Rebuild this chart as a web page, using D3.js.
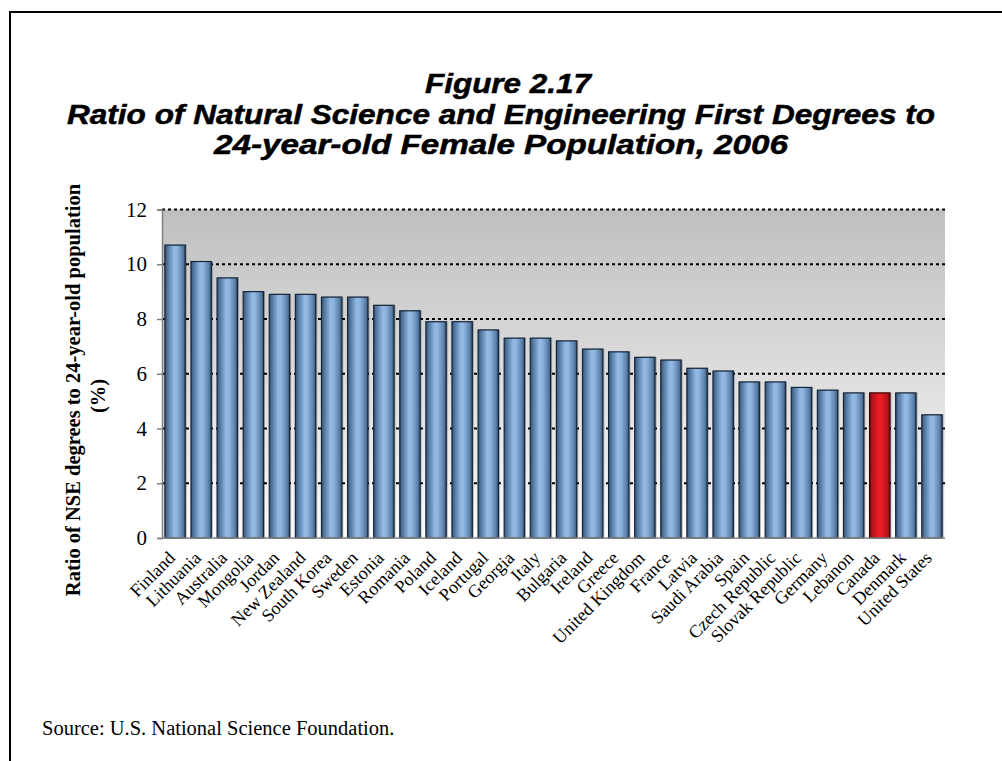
<!DOCTYPE html>
<html>
<head>
<meta charset="utf-8">
<script src="https://cdn.jsdelivr.net/npm/d3@7/dist/d3.min.js"></script>
<style>
  html, body { margin: 0; padding: 0; background: #ffffff; }
  svg { display: block; }
</style>
</head>
<body>
<svg id="chart" width="1002" height="761"></svg>
<script>
// ---- data ----
const countries = ["Finland","Lithuania","Australia","Mongolia","Jordan","New Zealand","South Korea","Sweden","Estonia","Romania","Poland","Iceland","Portugal","Georgia","Italy","Bulgaria","Ireland","Greece","United Kingdom","France","Latvia","Saudi Arabia","Spain","Czech Republic","Slovak Republic","Germany","Lebanon","Canada","Denmark","United States"];
const ratios = [10.7,10.1,9.5,9.0,8.9,8.9,8.8,8.8,8.5,8.3,7.9,7.9,7.6,7.3,7.3,7.2,6.9,6.8,6.6,6.5,6.2,6.1,5.7,5.7,5.5,5.4,5.3,5.3,5.3,4.5];
const highlighted = ["Canada"];
const yTicks = [0,2,4,6,8,10,12];
const titleLines = ["Figure 2.17","Ratio of Natural Science and Engineering First Degrees to","24-year-old Female Population, 2006"];
const yLabelLines = ["Ratio of NSE degrees to 24-year-old population","(%)"];
const sourceText = "Source: U.S. National Science Foundation.";

// ---- layout ----
const svg = d3.select("#chart");
const plot = {left: 162, right: 945, top: 209.5, bottom: 538};

const x = d3.scaleBand().domain(countries).range([plot.left, plot.right]).paddingInner(0.22).paddingOuter(0.11);
const y = d3.scaleLinear().domain([0, 12]).range([plot.bottom, plot.top]);

const defs = svg.append("defs");
const bg = defs.append("linearGradient").attr("id","bg").attr("x1",0).attr("y1",0).attr("x2",0).attr("y2",1);
bg.append("stop").attr("offset","0%").attr("stop-color","#bfbfbf");
bg.append("stop").attr("offset","100%").attr("stop-color","#fbfbfb");

function barGrad(id, stops) {
  const g = defs.append("linearGradient").attr("id", id).attr("x1",0).attr("y1",0).attr("x2",1).attr("y2",0);
  stops.forEach(s => g.append("stop").attr("offset", s[0]).attr("stop-color", s[1]));
}
barGrad("blue", [["0%","#34506f"],["12%","#4f739b"],["45%","#92bbe6"],["60%","#8cb4df"],["88%","#5a7fa8"],["100%","#34506f"]]);
barGrad("red",  [["0%","#7a0a0e"],["12%","#b0141a"],["45%","#ee1c25"],["60%","#e81b24"],["88%","#b4151b"],["100%","#7a0a0e"]]);

// frame
svg.append("line").attr("x1",10).attr("y1",12).attr("x2",1002).attr("y2",12).attr("stroke","#000").attr("stroke-width",2);
svg.append("line").attr("x1",10).attr("y1",11).attr("x2",10).attr("y2",761).attr("stroke","#000").attr("stroke-width",2);

// title (heavier, wide italic face: stretch horizontally to the reference widths)
const title = svg.append("g").attr("font-family","Liberation Sans, Arial, sans-serif")
  .attr("font-weight","bold").attr("font-style","italic").attr("font-size",27).attr("text-anchor","middle");
const titleY = [93, 123.5, 154];
const titleX = [508, 501, 501];
const titleW = [166, 868, 574];
titleLines.forEach((t,i) => title.append("text").attr("x",titleX[i]).attr("y",titleY[i])
  .attr("textLength",titleW[i]).attr("lengthAdjust","spacingAndGlyphs")
  .attr("stroke","#000").attr("stroke-width",0.5).text(t));

// plot background
svg.append("rect").attr("x",plot.left).attr("y",plot.top).attr("width",plot.right-plot.left)
  .attr("height",plot.bottom-plot.top).attr("fill","url(#bg)");

// gridlines
svg.append("g").selectAll("line").data(yTicks.filter(d => d > 0)).join("line")
  .attr("x1",plot.left).attr("x2",plot.right)
  .attr("y1",d => y(d)).attr("y2",d => y(d))
  .attr("stroke","#000").attr("stroke-width",1.8).attr("stroke-dasharray","3,3");

// bars (shadow + bar)
const bars = svg.append("g");
bars.selectAll("rect.shadow").data(countries).join("rect").attr("class","shadow")
  .attr("x", d => x(d) + 1.5).attr("y", (d,i) => y(ratios[i]) - 0.5)
  .attr("width", x.bandwidth()).attr("height", (d,i) => y(0) - y(ratios[i]))
  .attr("fill","#000").attr("opacity",0.25);
bars.selectAll("rect.bar").data(countries).join("rect").attr("class","bar")
  .attr("x", d => x(d)).attr("y", (d,i) => y(ratios[i]))
  .attr("width", x.bandwidth()).attr("height", (d,i) => y(0) - y(ratios[i]))
  .attr("fill", d => highlighted.includes(d) ? "url(#red)" : "url(#blue)")
  .attr("stroke", d => highlighted.includes(d) ? "#3a0000" : "#16263a").attr("stroke-width",1.2);

// y axis
const yAxis = svg.append("g").attr("transform",`translate(${plot.left},0)`)
  .call(d3.axisLeft(y).tickValues(yTicks).tickSize(5).tickPadding(10).tickFormat(d3.format("d")));
yAxis.select(".domain").attr("stroke","#808080").attr("stroke-width",1.5);
yAxis.selectAll(".tick line").attr("stroke","#808080").attr("stroke-width",1.5);
yAxis.selectAll(".tick text").attr("font-family","Liberation Serif, Times New Roman, serif").attr("font-size",21).attr("fill","#000");

// x axis
const xAxis = svg.append("g").attr("transform",`translate(0,${plot.bottom})`)
  .call(d3.axisBottom(x).tickSize(0).tickPadding(0));
xAxis.select(".domain").attr("stroke","#808080").attr("stroke-width",1.5).attr("d",`M${plot.left},0H${plot.right}`);
xAxis.selectAll(".tick text")
  .attr("font-family","Liberation Serif, Times New Roman, serif").attr("font-size",18).attr("fill","#000")
  .attr("text-anchor","end").attr("dy",0).attr("y",0)
  .attr("transform","translate(1,21) rotate(-45)");

// y label
const yl = svg.append("g").attr("font-family","Liberation Serif, Times New Roman, serif")
  .attr("font-weight","bold").attr("font-size",20.5).attr("text-anchor","middle");
yl.append("text").attr("transform","translate(80,390) rotate(-90)").text(yLabelLines[0]);
yl.append("text").attr("transform","translate(105,396) rotate(-90)").text(yLabelLines[1]);

// source
svg.append("text").attr("x",42).attr("y",735).attr("font-family","Liberation Serif, Times New Roman, serif")
  .attr("font-size",20.5).text(sourceText);
</script>
</body>
</html>
